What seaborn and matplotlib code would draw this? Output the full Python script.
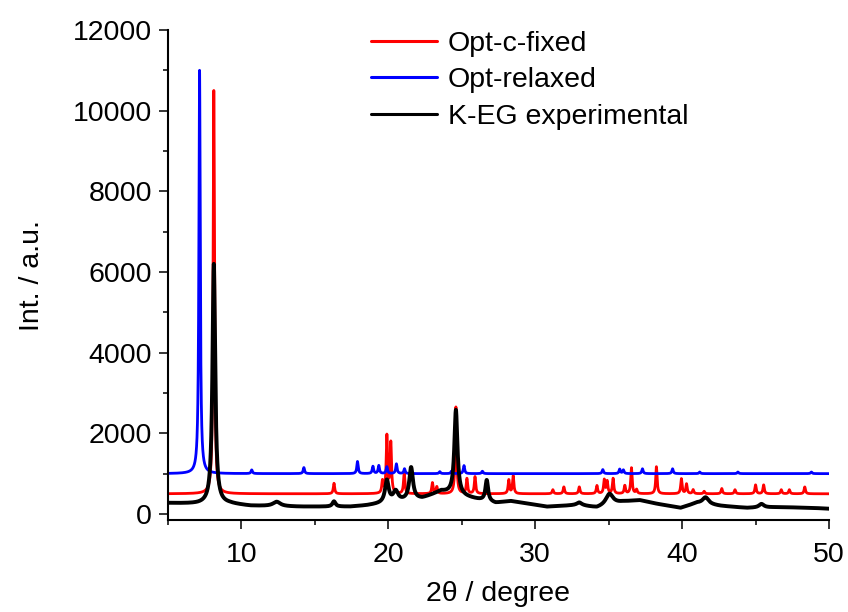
import numpy as np
import pandas as pd
import matplotlib
matplotlib.use("Agg")
import matplotlib.pyplot as plt
import seaborn as sns
from matplotlib.ticker import MultipleLocator

# ---------------- data ----------------
labels = ["Opt-c-fixed", "Opt-relaxed", "K-EG experimental"]
colors = ["#ff0000", "#0000ff", "#000000"]

# Opt-relaxed: baseline offset, peak positions (2theta) and heights above baseline
relaxed_offset = 1000
relaxed_pos = [7.15, 10.7, 14.25, 17.9, 18.95, 19.35, 19.9, 20.55, 21.1, 23.5, 24.3,
               25.15, 26.4, 34.6, 35.75, 36.0, 37.3, 39.35, 41.2, 43.8, 48.8]
relaxed_int = [10000, 90, 150, 300, 180, 200, 170, 240, 120, 50, 60,
               200, 60, 100, 110, 90, 120, 120, 40, 40, 40]

# Opt-c-fixed
fixed_offset = 500
fixed_pos = [8.12, 16.3, 19.6, 19.9, 20.17, 21.08, 23.0, 23.3, 24.6, 25.35, 25.9,
             28.2, 28.5, 31.2, 31.95, 33.0, 34.2, 34.7, 34.9, 35.3, 36.1, 36.55,
             36.9, 38.25, 39.95, 40.3, 40.75, 41.5, 42.7, 43.6, 45.0, 45.55,
             46.75, 47.3, 48.35]
fixed_int = [10000, 260, 300, 1420, 1250, 520, 270, 170, 2150, 370, 420,
             340, 440, 100, 170, 170, 200, 340, 300, 375, 200, 640,
             100, 670, 370, 240, 100, 60, 130, 100, 220, 220,
             100, 100, 170]

# K-EG experimental: background knots and peaks
exp_bg_x = [5.0, 7.0, 9.2, 10.6, 14.0, 17.4, 18.5, 20.5, 22.3, 23.6, 25.3, 27.3,
            28.3, 29.6, 30.8, 33.0, 34.2, 36.0, 37.1, 38.3, 39.9, 41.0, 42.6,
            44.4, 46.6, 48.9, 50.0]
exp_bg_y = [270, 250, 250, 200, 180, 180, 210, 300, 380, 560, 420, 270,
            320, 250, 180, 220, 150, 300, 340, 250, 150, 270, 200,
            150, 170, 150, 130]
exp_pos = [8.12, 12.4, 16.3, 19.9, 20.5, 21.55, 24.6, 26.7, 35.05, 41.6, 45.4, 33.0]
exp_int = [5950, 110, 130, 550, 250, 800, 2100, 520, 280, 170, 90, 60]
exp_fwhm = [0.22, 0.6, 0.25, 0.3, 0.4, 0.3, 0.25, 0.22, 0.6, 0.5, 0.4, 0.4]

x_ticks = [10, 20, 30, 40, 50]
y_ticks = [0, 2000, 4000, 6000, 8000, 10000, 12000]

# ---------------- build profiles from the peak lists ----------------
tt = np.arange(5.0, 50.0001, 0.005)


def profile(pos, inten, fwhm):
    y = np.zeros_like(tt)
    for p, h, w in zip(pos, inten, fwhm):
        g = (w / 2.0) ** 2
        y += h * g / ((tt - p) ** 2 + g)
    return y


y_fixed = fixed_offset + profile(fixed_pos, fixed_int, [0.11] * len(fixed_pos))
y_relaxed = relaxed_offset + profile(relaxed_pos, relaxed_int, [0.11] * len(relaxed_pos))
y_exp = np.interp(tt, exp_bg_x, exp_bg_y) + profile(exp_pos, exp_int, exp_fwhm)

df = pd.concat([
    pd.DataFrame({"two_theta": tt, "intensity": y_fixed, "series": labels[0]}),
    pd.DataFrame({"two_theta": tt, "intensity": y_relaxed, "series": labels[1]}),
    pd.DataFrame({"two_theta": tt, "intensity": y_exp, "series": labels[2]}),
])

# ---------------- plot ----------------
sns.set_theme(style="ticks")
plt.rcParams["font.family"] = ["Liberation Sans", "DejaVu Sans"]
plt.rcParams["text.color"] = "black"
plt.rcParams["axes.labelcolor"] = "black"
plt.rcParams["xtick.color"] = "black"
plt.rcParams["ytick.color"] = "black"

fig = plt.figure(figsize=(8.48, 6.12), dpi=100)
ax = fig.add_axes([0.1981, 0.1503, 0.7795, 0.8007])

sns.lineplot(data=df, x="two_theta", y="intensity", hue="series",
             hue_order=labels, palette=dict(zip(labels, colors)),
             linewidth=2.0, ax=ax, estimator=None, sort=False)
for line in ax.get_lines():
    if tuple(matplotlib.colors.to_rgb(line.get_color())) == (0.0, 0.0, 0.0):
        line.set_linewidth(2.8)

ax.set_xlim(5, 50)
ax.set_ylim(-150, 12000)
ax.set_xticks(x_ticks)
ax.set_yticks(y_ticks)
ax.xaxis.set_minor_locator(MultipleLocator(5))
ax.yaxis.set_minor_locator(MultipleLocator(1000))

for s in ["top", "right"]:
    ax.spines[s].set_visible(False)
for s in ["left", "bottom"]:
    ax.spines[s].set_linewidth(1.5)
    ax.spines[s].set_color("black")

ax.tick_params(axis="both", which="major", length=6.5, width=1.1, labelsize=20.5,
               color="black", labelcolor="black", direction="out")
ax.tick_params(axis="both", which="minor", length=3.5, width=1.1, color="black",
               direction="out")
ax.tick_params(axis="x", which="major", pad=9)
ax.tick_params(axis="y", which="major", pad=5)

ax.set_xlabel("2θ / degree", fontsize=20.5, labelpad=10, color="black")
ax.set_ylabel("Int. / a.u.", fontsize=20.5, labelpad=20, color="black")

leg = ax.legend(loc="upper left", bbox_to_anchor=(0.29, 1.022), frameon=False,
                fontsize=20.5, handlelength=2.3, handletextpad=0.4,
                labelspacing=0.38, borderaxespad=0.0)
for t in leg.get_texts():
    t.set_color("black")
for h in leg.get_lines():
    h.set_linewidth(2.2)

fig.savefig("out.png", dpi=100)
